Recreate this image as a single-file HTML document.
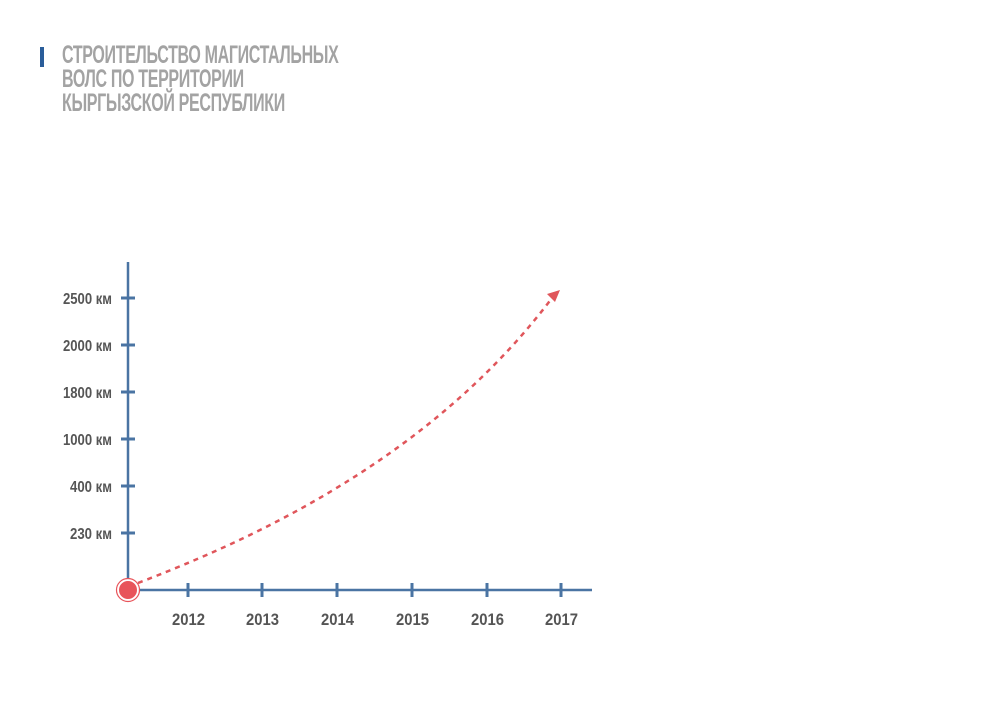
<!DOCTYPE html>
<html><head><meta charset="utf-8"><style>
body{margin:0;width:1000px;height:707px;background:#fff;overflow:hidden;position:relative;font-family:"Liberation Sans",sans-serif}
.bar{position:absolute;left:40px;top:47px;width:4px;height:20px;background:#2a5d9a}
.t{position:absolute;left:62px;top:43px;color:#a3a3a3;font-weight:bold;font-size:25px;line-height:24px;letter-spacing:-0.5px;transform:scaleX(0.64);transform-origin:0 0;white-space:nowrap}
</style></head><body>
<div class="bar"></div>
<div class="t">СТРОИТЕЛЬСТВО МАГИСТАЛЬНЫХ<br>ВОЛС ПО ТЕРРИТОРИИ<br>КЫРГЫЗСКОЙ РЕСПУБЛИКИ</div>
<svg width="1000" height="707" style="position:absolute;left:0;top:0" font-family="Liberation Sans, sans-serif" font-weight="bold" fill="#555">
<g stroke="#4a74a3" stroke-width="2.5">
<line x1="128" y1="262" x2="128" y2="590"/>
<line x1="128" y1="590" x2="592" y2="590"/>
<g stroke-width="3">
<line x1="121" y1="298" x2="135" y2="298"/><line x1="121" y1="345" x2="135" y2="345"/><line x1="121" y1="392" x2="135" y2="392"/><line x1="121" y1="439" x2="135" y2="439"/><line x1="121" y1="486" x2="135" y2="486"/><line x1="121" y1="533" x2="135" y2="533"/>
<line x1="188" y1="583" x2="188" y2="597"/><line x1="262" y1="583" x2="262" y2="597"/><line x1="337" y1="583" x2="337" y2="597"/><line x1="412" y1="583" x2="412" y2="597"/><line x1="487" y1="583" x2="487" y2="597"/><line x1="561" y1="583" x2="561" y2="597"/>
</g></g>
<g font-size="16">
<text x="63" y="304" textLength="49" lengthAdjust="spacingAndGlyphs">2500 км</text>
<text x="63" y="351" textLength="49" lengthAdjust="spacingAndGlyphs">2000 км</text>
<text x="63" y="398" textLength="49" lengthAdjust="spacingAndGlyphs">1800 км</text>
<text x="63" y="445" textLength="49" lengthAdjust="spacingAndGlyphs">1000 км</text>
<text x="70" y="492" textLength="42" lengthAdjust="spacingAndGlyphs">400 км</text>
<text x="70" y="539" textLength="42" lengthAdjust="spacingAndGlyphs">230 км</text>
</g>
<g font-size="17">
<text x="172" y="625" textLength="33" lengthAdjust="spacingAndGlyphs">2012</text>
<text x="246" y="625" textLength="33" lengthAdjust="spacingAndGlyphs">2013</text>
<text x="321" y="625" textLength="33" lengthAdjust="spacingAndGlyphs">2014</text>
<text x="396" y="625" textLength="33" lengthAdjust="spacingAndGlyphs">2015</text>
<text x="471" y="625" textLength="33" lengthAdjust="spacingAndGlyphs">2016</text>
<text x="545" y="625" textLength="33" lengthAdjust="spacingAndGlyphs">2017</text>
</g>
<path d="M138 583 C250 540 430 460 552 298" fill="none" stroke="#e0565b" stroke-width="2.5" stroke-dasharray="5 5"/>
<path d="M560 290 L547 294 L555 302 Z" fill="#e0565b"/>
<circle cx="128" cy="590" r="10" fill="#e8545a" stroke="#fff" stroke-width="2"/>
<circle cx="128" cy="590" r="11.5" fill="none" stroke="#e8545a" stroke-width="1.2"/>
</svg>
</body></html>
